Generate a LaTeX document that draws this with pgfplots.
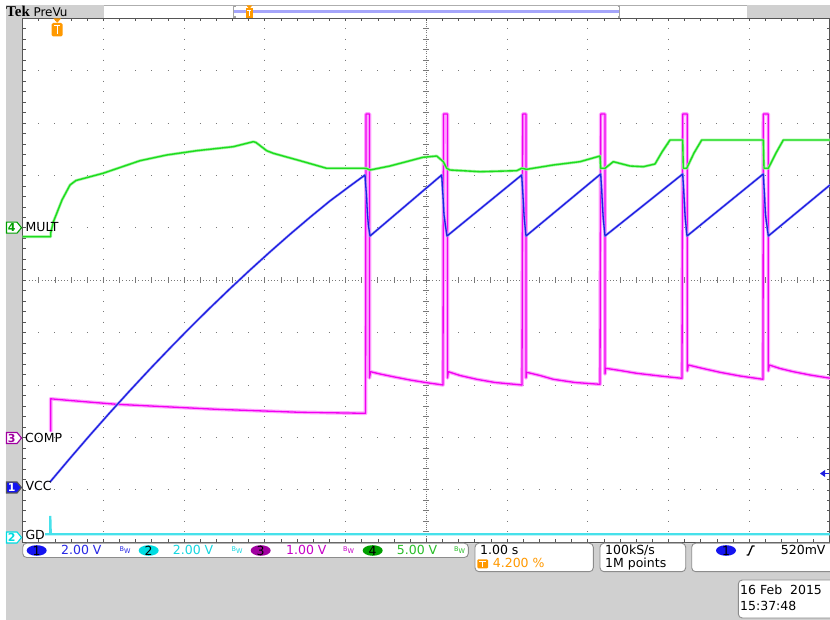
\documentclass[border=0pt]{standalone}
\usepackage{pgfplots}
\usepackage{pgfplotstable}
\pgfplotsset{compat=1.18}
\usepackage{fontspec}
\setmainfont{DejaVu Sans}
\newfontfamily\logofont{Liberation Serif}

\definecolor{tekbg}{RGB}{208,208,208}
\definecolor{framec}{RGB}{85,85,85}
\definecolor{dotc}{RGB}{120,120,120}
\definecolor{chA}{RGB}{30,30,225}
\definecolor{chAlight}{RGB}{165,165,250}
\definecolor{chB}{RGB}{70,225,235}
\definecolor{chC}{RGB}{240,0,240}
\definecolor{chClight}{RGB}{255,165,255}
\definecolor{chD}{RGB}{30,220,30}
\definecolor{chDlight}{RGB}{165,245,165}
\definecolor{tekorange}{RGB}{255,153,0}
\definecolor{txtA}{RGB}{40,40,230}
\definecolor{txtB}{RGB}{20,215,225}
\definecolor{txtC}{RGB}{200,0,200}
\definecolor{txtD}{RGB}{40,190,40}
\definecolor{ellA}{RGB}{20,20,240}
\definecolor{ellB}{RGB}{0,220,225}
\definecolor{ellC}{RGB}{160,0,160}
\definecolor{ellD}{RGB}{0,160,0}
\definecolor{boxc}{RGB}{140,140,140}

% traces in pixel coordinates (y grows downwards)
\pgfplotstableread{
x y
50.7 431.7
50.7 398.8
70 400.5
116.7 404.3
216.7 409.3
300 412.3
365.5 413.3
366 114
369.5 114
369.5 378
370.5 371.7
380 374
393 376.7
410 380
426.7 382.7
443 385
443.5 114
447.5 114
447.5 378
448.3 371.7
460 375.5
476.7 379.3
495 382.5
522 385
522.7 114
526 114
526 378
526.7 372.3
540 375.5
553.3 379.3
575 382.5
600 384.3
600.7 114
605 114
605 374
605.7 368.3
620 370.5
636.7 373.3
660 376
682 378.3
682.7 114
687.3 114
687.3 371
688.3 365
703 368.5
720 372.3
740 376
763 379.3
763.3 114
768.3 114
768.3 371
769.3 365
780 368.5
793.3 371.7
810 375
830 378.2
}\compdata

\pgfplotstableread{
x y
22.7 236.7
50.7 236.7
50.7 233
53.3 222
62 200
70 185
76 180.5
103 173.3
140 160.7
166.7 155
196.7 150.7
233.3 146.7
253.3 141.7
256 142.5
266.7 150.7
273.3 153.3
300 160.7
326.7 168.3
366 168.3
370 170
390 166
423 157.3
436.7 156
443.3 161.7
446.7 168.3
450 170
480 171.7
516.7 170.7
521.7 168.3
526.7 169.3
553.3 165
580 161.7
600 156
600.7 168.3
605 168.3
613.3 161.7
630 166
643.3 166.7
655 164
662 152
670 140
682.7 140
683.3 168.3
686.7 168.3
694 153
701.7 140
763.3 140
764 168.3
768.3 168.3
776 153
783.3 140
830 140
}\multdata

\pgfplotstableread{
x y
50 482
70 458.3
90 435.1
110 412.5
130 390.5
150 369
170 348.1
190 327.7
210 307.9
230 288.7
250 270
270 251.9
290 234.3
310 217.3
330 200.9
350 186
365 175
366.5 196
367.5 215
368.5 226
370 236
441.7 175
443 196
444 215
445.5 226
447 236
521.7 175
523 196
524 215
525 226
526 236
600.7 174
602 196
603 215
604 226
605 236
682.7 174
684 196
685 215
686 226
687 236
763.3 174
764.5 196
765.5 215
767 226
768.3 236
830 185
}\vccdata

\pgfplotstableread{
x y
45 534.3
50.3 534.3
50.3 516
50.8 534.3
830 534.3
}\gddata

\begin{document}
\begin{tikzpicture}[font=\fontsize{12.5}{14}\selectfont]
\clip (0pt,0pt) rectangle (830pt,620pt);
\begin{scope}[x=1pt,y=-1pt,shift={(0pt,620pt)}]
  \fill[white] (0,0) rectangle (830,620);
  \fill[tekbg] (6,5) rectangle (830,620);
  % header bar
  \fill[white] (104,6) rectangle (747,18);
  \draw[boxc!70, line width=0.8pt] (104,5.6) -- (747,5.6);
  \node[anchor=base west, inner sep=0, font=\logofont\bfseries\fontsize{15}{16}\selectfont] at (6,17) {Tek};
  \node[anchor=base west, inner sep=0, font=\fontsize{12}{14}\selectfont] at (33.3,16.2) {PreVu};
  % record view
  \draw[chAlight, line width=2.4pt] (234,11.5) -- (619,11.5);
  \draw[boxc!80, line width=1.2pt] (235.5,6.5) -- (233.5,6.5) -- (233.5,17) -- (235.5,17);
  \draw[boxc!80, line width=1.2pt] (617.5,6.5) -- (619.5,6.5) -- (619.5,17) -- (617.5,17);
  \fill[tekorange] (246,8.5) rectangle (252.7,18);
  \fill[tekorange] (246.3,5.5) -- (252.4,5.5) -- (249.35,8.8) -- cycle;
  \draw[white, line width=1pt] (247.3,10.5) -- (251.4,10.5) (249.35,10.5) -- (249.35,16.5);
  % graticule area
  \fill[white] (22.7,18.3) rectangle (830,542.3);
  % centre crosshair
  \draw[dotc, line width=1pt, dash pattern=on 1pt off 1.096pt, dash phase=0.5pt] (426.35,18.3) -- (426.35,542.3);
  \draw[dotc, line width=1pt, dash pattern=on 1pt off 2.229pt, dash phase=0.5pt] (22.7,280.3) -- (830,280.3);
  \foreach \k in {1,...,49} {
    \draw[dotc, line width=0.9pt] (423.4,18.3+10.48*\k) -- (429.3,18.3+10.48*\k);
    \draw[dotc, line width=0.9pt] (22.7+16.146*\k,277.3) -- (22.7+16.146*\k,283.3);
  }
\end{scope}

\begin{axis}[
  at={(22.7pt,77.7pt)}, anchor=south west, scale only axis,
  width=807.3pt, height=524pt,
  xmin=22.7, xmax=830, ymin=18.3, ymax=542.3, y dir=reverse,
  xtick={22.7,103.43,184.16,264.89,345.62,426.35,507.08,587.81,668.54,749.27,830},
  ytick={18.3,70.7,123.1,175.5,227.9,280.3,332.7,385.1,437.5,489.9,542.3},
  xticklabels={}, yticklabels={},
  minor x tick num=4, minor y tick num=4,
  tick pos=both, tick align=inside,
  major tick length=3pt, minor tick length=3pt,
  every tick/.style={framec, line width=0.8pt},
  grid=major,
  major x grid style={dotc, line width=1pt, dash pattern=on 1pt off 9.48pt, dash phase=0.5pt},
  major y grid style={dotc, line width=1pt, dash pattern=on 1pt off 15.146pt, dash phase=0.5pt},
  axis line style={framec, line width=1.3pt},
]
\addplot[chB, line width=2.2pt] table {\gddata};
\addplot[chClight, line width=3.6pt, line join=round] table {\compdata};
\addplot[chC, line width=1.3pt, line join=round] table {\compdata};
\addplot[chDlight, line width=2.8pt, line join=round] table {\multdata};
\addplot[chD, line width=1.4pt, line join=round] table {\multdata};
\addplot[chAlight, line width=2.4pt, line join=round] table {\vccdata};
\addplot[chA, line width=1.3pt, line join=round] table {\vccdata};
\end{axis}

\begin{scope}[x=1pt,y=-1pt,shift={(0pt,620pt)}]
  % trigger position marker
  \fill[tekorange, rounded corners=1.5pt] (51.7,23) rectangle (62.7,36.5);
  \fill[tekorange] (53.3,18.3) -- (61.1,18.3) -- (57.2,22.8) -- cycle;
  \draw[white, line width=1.3pt] (54,25.8) -- (60.4,25.8) (57.2,25.8) -- (57.2,34.5);
  % trigger level arrow
  \fill[chA] (820,473.5) -- (825,470) -- (825,477) -- cycle;
  \draw[chA, line width=1pt] (825,473.5) -- (829,473.5);
  % channel markers and labels
  \draw[ellD, fill=white, line width=1.1pt] (6.5,222.2) -- (17,222.2) -- (21.5,227.7) -- (17,233.2) -- (6.5,233.2) -- cycle;
  \node[text=ellD, inner sep=0, font=\fontsize{11}{12}\selectfont\bfseries] at (11.8,227.9) {4};
  \node[anchor=base west, inner sep=0] at (25.5,231.7) {MULT};
  \draw[ellC, fill=white, line width=1.1pt] (6.5,432.5) -- (17,432.5) -- (21.5,438) -- (17,443.5) -- (6.5,443.5) -- cycle;
  \node[text=ellC, inner sep=0, font=\fontsize{11}{12}\selectfont\bfseries] at (11.8,438.2) {3};
  \node[anchor=base west, inner sep=0] at (25,442.3) {COMP};
  \draw[framec, fill=ellA, line width=1.1pt] (6.5,482) -- (17,482) -- (21.5,487.5) -- (17,493) -- (6.5,493) -- cycle;
  \node[text=white, inner sep=0, font=\fontsize{11}{12}\selectfont\bfseries] at (11.8,487.7) {1};
  \node[anchor=base west, inner sep=0] at (25.5,491) {VCC};
  \draw[ellB, fill=white, line width=1.1pt] (6.5,532) -- (17,532) -- (21.5,537.5) -- (17,543) -- (6.5,543) -- cycle;
  \node[text=ellB, inner sep=0, font=\fontsize{11}{12}\selectfont\bfseries] at (11.8,537.7) {2};
  \node[anchor=base west, inner sep=0] at (25.3,539.3) {GD};
  % channel readout
  \draw[boxc, fill=white, line width=0.9pt, rounded corners=4pt] (22.7,543.2) rectangle (468.3,557.5);
  \fill[ellA] (36.7,550.5) ellipse (10pt and 5.3pt);
  \node[inner sep=0] at (36.7,550.7) {1};
  \node[anchor=base west, inner sep=0, text=txtA] at (61,554.5) {2.00 V};
  \node[inner sep=0, text=txtA, font=\fontsize{6.5}{7}\selectfont] at (125,550) {B\raisebox{-2.5pt}{W}};
  \fill[ellB] (148.7,550.5) ellipse (10pt and 5.3pt);
  \node[inner sep=0] at (148.7,550.7) {2};
  \node[anchor=base west, inner sep=0, text=txtB] at (172.7,554.5) {2.00 V};
  \node[inner sep=0, text=txtB, font=\fontsize{6.5}{7}\selectfont] at (237,550) {B\raisebox{-2.5pt}{W}};
  \fill[ellC] (260.7,550.5) ellipse (10pt and 5.3pt);
  \node[inner sep=0] at (260.7,550.7) {3};
  \node[anchor=base west, inner sep=0, text=txtC] at (286,554.5) {1.00 V};
  \node[inner sep=0, text=txtC, font=\fontsize{6.5}{7}\selectfont] at (348.5,550) {B\raisebox{-2.5pt}{W}};
  \fill[ellD] (372.7,550.5) ellipse (10pt and 5.3pt);
  \node[inner sep=0] at (372.7,550.7) {4};
  \node[anchor=base west, inner sep=0, text=txtD] at (396.7,554.5) {5.00 V};
  \node[inner sep=0, text=txtD, font=\fontsize{6.5}{7}\selectfont] at (459.5,550) {B\raisebox{-2.5pt}{W}};
  % timebase
  \draw[boxc, fill=white, line width=0.9pt, rounded corners=4pt] (475,543.2) rectangle (593.3,571.7);
  \node[anchor=base west, inner sep=0] at (480,554.5) {1.00 s};
  \fill[tekorange, rounded corners=1pt] (477.3,559.3) rectangle (488,568.3);
  \draw[white, line width=1.2pt] (479.3,561.3) -- (486,561.3) (482.65,561.3) -- (482.65,567);
  \node[anchor=base west, inner sep=0, text=tekorange] at (492.7,567.8) {4.200 \%};
  % acquisition
  \draw[boxc, fill=white, line width=0.9pt, rounded corners=4pt] (600,543.2) rectangle (685.7,571.7);
  \node[anchor=base west, inner sep=0] at (605,554.5) {100kS/s};
  \node[anchor=base west, inner sep=0] at (605,567.8) {1M points};
  % trigger
  \draw[boxc, fill=white, line width=0.9pt, rounded corners=4pt] (691.7,543.2) rectangle (834,571.7);
  \fill[ellA] (726,550.5) ellipse (10pt and 5.3pt);
  \node[inner sep=0] at (726,550.7) {1};
  \draw[black, line width=1.3pt] (746.5,555) -- (748.5,555) -- (752.3,546) -- (754.5,546);
  \node[anchor=base west, inner sep=0] at (780.7,554.5) {520mV};
  % date
  \draw[boxc, fill=white, line width=0.9pt, rounded corners=4pt] (738.3,580) rectangle (834,618);
  \node[anchor=base west, inner sep=0] at (740,594.5) {16 Feb\ \ 2015};
  \node[anchor=base west, inner sep=0] at (740,610.3) {15:37:48};
\end{scope}
\end{tikzpicture}
\end{document}
